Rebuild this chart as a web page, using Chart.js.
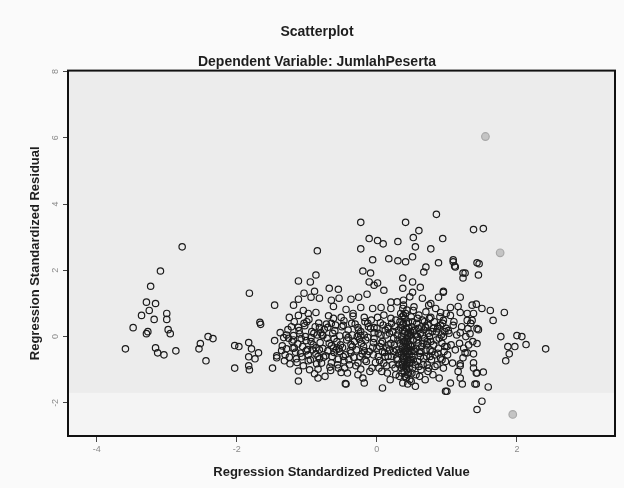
<!DOCTYPE html>
<html>
<head>
<meta charset="utf-8">
<script src="https://cdn.jsdelivr.net/npm/chart.js@4.4.1/dist/chart.umd.min.js"></script>
<style>
    html, body { margin: 0; padding: 0; background: #fafafa; }
    #wrap { width: 624px; height: 488px; }
</style>
</head>
<body>
<div id="wrap"><canvas id="residualChart"></canvas></div>
<script>
// Axis ticks
const xTicks = [-4, -2, 0, 2];
const yTicks = [-2, 0, 2, 4, 6, 8];

// Points: [standardized predicted value, standardized residual]
const leftCluster = [
    [-2.78, 2.71], [-3.09, 1.98], [-3.23, 1.52], [-3.29, 1.04], [-3.16, 1.00], [-3.25, 0.79],
    [-3.36, 0.64], [-3.18, 0.52], [-3.00, 0.70], [-3.00, 0.52], [-3.48, 0.27], [-3.29, 0.09],
    [-3.27, 0.15], [-2.98, 0.21], [-2.95, 0.09], [-3.59, -0.37], [-3.16, -0.34], [-3.13, -0.49],
    [-3.04, -0.55], [-2.87, -0.43], [-2.54, -0.37], [-2.52, -0.21], [-2.41, 0.00], [-2.34, -0.06],
    [-2.44, -0.73]
];

const midLeftCluster = [
    [-1.82, 1.31], [-1.46, 0.95], [-1.67, 0.43], [-1.66, 0.37], [-2.03, -0.27], [-1.97, -0.30],
    [-1.83, -0.18], [-1.79, -0.37], [-1.69, -0.49], [-1.83, -0.61], [-1.74, -0.67], [-2.03, -0.95],
    [-1.83, -0.88], [-1.82, -1.00], [-1.49, -0.95], [-1.46, -0.12], [-1.43, -0.64]
];

const midCluster = [
    [-0.23, 3.45], [-0.85, 2.59], [-0.11, 2.96], [0.01, 2.90], [-0.23, 2.65], [-0.06, 2.32],
    [0.17, 2.35], [-0.20, 1.98], [-0.87, 1.86], [-1.12, 1.68], [-0.95, 1.65], [-0.09, 1.92],
    [-0.11, 1.65], [0.01, 1.62], [-1.04, 1.31], [-0.89, 1.37], [-0.68, 1.46], [-0.55, 1.43],
    [-1.12, 1.13], [-0.94, 1.19], [-0.82, 1.16], [-0.65, 1.10], [-0.54, 1.16], [-0.37, 1.13],
    [-0.26, 1.19], [-0.14, 1.28], [-1.19, 0.95], [-1.05, 0.79], [-0.62, 0.91], [-0.44, 0.82],
    [-0.23, 0.88], [-0.06, 0.85], [0.06, 0.88], [-1.25, 0.58], [-1.12, 0.64], [-0.98, 0.70],
    [-0.87, 0.73], [-0.51, 0.58], [-0.34, 0.70], [-0.18, 0.58], [-1.22, 0.30], [-1.04, 0.40],
    [-0.82, 0.27], [-0.65, 0.40], [-0.48, 0.34], [-0.27, 0.27], [-0.13, 0.40], [-1.33, -0.03],
    [-1.19, 0.03], [-1.08, -0.06], [-0.94, -0.03], [-0.77, 0.03], [-0.61, -0.06], [-0.41, -0.03],
    [-0.23, 0.03], [-0.04, -0.06], [-1.43, -0.58], [-1.29, -0.37], [-1.18, -0.34], [-1.01, -0.43],
    [-0.87, -0.34], [-0.70, -0.43], [-0.54, -0.37], [-0.37, -0.49], [-0.18, -0.43], [-1.32, -0.73],
    [-1.15, -0.67], [-0.98, -0.73], [-0.82, -0.67], [-0.65, -0.79], [-0.47, -0.73], [-0.27, -0.79],
    [-1.12, -1.04], [-0.84, -0.98], [-0.55, -0.95], [-0.23, -0.98], [-1.12, -1.34], [-0.84, -1.25],
    [-0.44, -1.43], [-0.18, -1.40]
];

const midFill = [
    [-1.38, 0.12], [-1.35, -0.28], [-1.31, -0.55], [-1.27, 0.21], [-1.24, -0.82], [-1.21, -0.15],
    [-1.18, 0.45], [-1.16, -0.47], [-1.13, -0.22], [-1.10, 0.08], [-1.07, -0.61], [-1.05, -0.88],
    [-1.03, 0.33], [-1.01, -0.12], [-0.99, -0.39], [-0.97, 0.52], [-0.95, -0.70], [-0.93, 0.15],
    [-0.91, -0.25], [-0.89, -1.12], [-0.87, -0.52], [-0.85, 0.05], [-0.83, 0.41], [-0.81, -0.18],
    [-0.79, -0.80], [-0.77, -0.36], [-0.75, 0.22], [-0.73, -0.58], [-0.71, -0.05], [-0.69, 0.63],
    [-0.67, -0.92], [-0.65, -0.27], [-0.63, 0.10], [-0.61, -0.48], [-0.59, 0.35], [-0.57, -0.15],
    [-0.55, -0.68], [-0.53, 0.02], [-0.51, -1.08], [-0.49, -0.33], [-0.47, 0.48], [-0.45, -0.55],
    [-0.43, -0.10], [-0.41, 0.20], [-0.39, -0.85], [-0.37, -0.24], [-0.35, 0.05], [-0.33, -0.62],
    [-0.31, 0.38], [-0.29, -0.40], [-0.27, -1.15], [-0.25, -0.08], [-0.23, 0.15], [-0.21, -0.52],
    [-0.19, -0.30], [-0.17, 0.45], [-0.15, -0.75], [-0.13, -0.02], [-0.11, -0.45], [-0.09, 0.25],
    [-0.07, -0.95], [-0.05, -0.18], [-1.26, -0.05], [-1.12, 0.28], [-0.96, -1.00], [-0.88, 0.30],
    [-0.74, -1.20], [-0.62, 0.55], [-0.46, -0.95], [-0.34, 0.62], [-0.20, -1.25], [-0.08, 0.50],
    [-1.20, -0.35], [-0.84, -0.60], [-0.58, -0.40], [-0.40, -0.70], [-0.16, -0.10], [-1.02, 0.00],
    [-0.70, 0.28], [-0.28, 0.00]
];

const midExtra = [
    [-1.36, -0.42], [-1.29, 0.05], [-1.25, -0.62], [-1.19, -0.10], [-1.14, -0.78], [-1.11, 0.18],
    [-1.06, -0.30], [-1.00, 0.45], [-0.98, -0.55], [-0.94, -0.15], [-0.90, 0.10], [-0.86, -0.82],
    [-0.82, -0.40], [-0.80, 0.12], [-0.76, -0.62], [-0.72, 0.38], [-0.68, -0.20], [-0.66, -1.02],
    [-0.62, -0.35], [-0.60, 0.18], [-0.56, -0.85], [-0.52, -0.25], [-0.50, 0.30], [-0.48, -0.60],
    [-0.44, 0.05], [-0.42, -1.10], [-0.38, -0.42], [-0.36, 0.40], [-0.32, -0.15], [-0.30, -0.88],
    [-0.26, 0.20], [-0.24, -0.60], [-0.22, -0.20], [-0.18, 0.05], [-0.14, -0.55], [-0.12, 0.30],
    [-0.10, -1.05], [-0.06, -0.32], [-0.04, 0.12], [-0.02, -0.78], [-1.09, -0.50], [-0.92, -0.40],
    [-0.78, 0.05], [-0.64, -0.60], [-0.53, -0.45], [-0.35, -0.30], [-0.17, -0.70], [-0.05, -0.55]
];

const coreCluster = [
    [0.85, 3.69], [0.41, 3.45], [0.60, 3.20], [0.30, 2.87], [0.52, 2.99], [0.94, 2.96],
    [0.55, 2.71], [0.77, 2.65], [0.09, 2.80], [0.30, 2.29], [0.41, 2.26], [0.51, 2.41],
    [0.88, 2.23], [0.70, 2.10], [0.67, 1.95], [0.37, 1.77], [0.51, 1.65], [-0.04, 1.55],
    [0.10, 1.40], [0.37, 1.46], [0.51, 1.34], [0.62, 1.49], [0.95, 1.37], [0.20, 1.04],
    [0.38, 1.10], [0.65, 1.16], [0.88, 1.19], [0.37, 0.85], [0.52, 0.79], [0.74, 0.95],
    [0.91, 0.73], [0.01, 0.58], [0.20, 0.55], [0.38, 0.64], [0.58, 0.55], [0.77, 0.58],
    [0.95, 0.49], [-0.04, 0.27], [0.16, 0.24], [0.34, 0.27], [0.52, 0.18], [0.70, 0.27],
    [0.87, 0.24], [0.44, -1.43], [0.08, -1.55], [0.55, -1.50], [-0.45, -1.42], [0.98, -1.65]
];

const coreFill = [
    [0.00, -0.35], [0.02, 0.10], [0.04, -0.72], [0.05, 0.42], [0.07, -1.05], [0.08, -0.15],
    [0.10, 0.65], [0.11, -0.48], [0.13, 0.05], [0.14, -0.88], [0.16, 0.30], [0.17, -0.25],
    [0.19, -1.30], [0.20, 0.85], [0.21, -0.60], [0.23, 0.15], [0.24, -0.05], [0.26, -0.95],
    [0.27, 0.50], [0.28, -0.40], [0.29, 1.05], [0.30, -0.70], [0.31, 0.20], [0.32, -1.20],
    [0.33, -0.20], [0.34, 0.70], [0.35, -0.55], [0.35, 0.00], [0.36, -0.85], [0.36, 0.35],
    [0.37, -1.40], [0.37, -0.30], [0.38, 0.95], [0.38, -0.65], [0.39, 0.10], [0.39, -1.05],
    [0.40, -0.15], [0.40, 0.55], [0.41, -0.45], [0.41, -0.90], [0.42, 0.25], [0.42, -1.25],
    [0.43, -0.05], [0.43, 0.80], [0.44, -0.70], [0.44, -0.35], [0.45, 0.45], [0.45, -1.10],
    [0.46, 0.00], [0.46, -0.55], [0.47, 1.20], [0.47, -0.80], [0.48, 0.15], [0.48, -0.25],
    [0.49, -1.35], [0.49, 0.60], [0.50, -0.60], [0.50, 0.30], [0.51, -0.95], [0.52, -0.10],
    [0.53, 0.90], [0.54, -0.45], [0.55, 0.05], [0.56, -1.15], [0.57, 0.40], [0.58, -0.75],
    [0.59, -0.20], [0.60, 0.65], [0.61, -0.50], [0.62, 0.10], [0.63, -1.00], [0.64, -0.30],
    [0.65, 0.50], [0.66, -0.85], [0.67, 0.20], [0.68, -0.05], [0.69, -1.30], [0.70, 0.75],
    [0.71, -0.60], [0.72, -0.15], [0.73, 0.35], [0.74, -0.95], [0.75, 0.00], [0.76, -0.40],
    [0.77, 1.00], [0.78, -0.70], [0.79, 0.15], [0.80, -1.15], [0.81, -0.25], [0.82, 0.45],
    [0.83, -0.55], [0.84, 0.85], [0.85, -0.10], [0.86, -0.85], [0.87, 0.30], [0.88, -0.35],
    [0.89, -1.25], [0.90, 0.60], [0.91, -0.65], [0.92, 0.05], [0.93, -0.20], [0.94, 0.40],
    [0.95, -0.95], [0.96, -0.45], [0.97, 0.15], [0.98, -0.75], [0.99, 0.70], [1.00, -0.30],
    [0.36, -0.10], [0.38, -0.50], [0.40, -0.75], [0.42, -0.60], [0.44, -0.15], [0.46, -0.95],
    [0.38, 0.40], [0.40, 0.15], [0.42, -0.30], [0.44, 0.05], [0.37, -0.80], [0.39, -0.35],
    [0.41, 0.70], [0.43, -1.00], [0.45, -0.25], [0.47, -0.45], [0.36, -1.10], [0.38, -0.90],
    [0.40, -1.20], [0.42, -0.85], [0.44, -0.50], [0.46, 0.25], [0.48, -0.70], [0.50, -1.10],
    [0.34, -0.45], [0.32, -0.85], [0.30, -0.10], [0.28, -0.65], [0.26, 0.30], [0.24, -0.45],
    [0.22, -0.85], [0.20, -0.20], [0.18, 0.10], [0.16, -0.60], [0.14, -0.35], [0.12, 0.20],
    [0.10, -0.80], [0.08, -0.45], [0.06, 0.05], [0.04, -0.30], [0.02, -0.60], [0.00, 0.25],
    [0.52, -0.70], [0.54, 0.20], [0.56, -0.35], [0.58, 0.00], [0.60, -0.90], [0.62, -0.60],
    [0.64, 0.30], [0.66, -0.20], [0.68, 0.45], [0.70, -0.40], [0.72, -0.85], [0.74, 0.10],
    [0.76, -0.60]
];

const coreExtra = [
    [0.03, -0.95], [0.06, -0.20], [0.09, 0.35], [0.12, -0.60], [0.15, -1.10], [0.18, -0.40],
    [0.21, 0.40], [0.25, -0.25], [0.27, -1.15], [0.29, 0.05], [0.31, -0.50], [0.33, 0.45],
    [0.35, -0.95], [0.37, 0.20], [0.39, -0.60], [0.41, -0.20], [0.43, -0.80], [0.45, 0.10],
    [0.47, -1.30], [0.49, -0.30], [0.51, 0.45], [0.53, -0.40], [0.55, -0.85], [0.57, -0.10],
    [0.59, 0.25], [0.61, -1.20], [0.63, -0.45], [0.65, 0.05], [0.67, -0.65], [0.69, 0.30],
    [0.71, -0.25], [0.73, -1.05], [0.75, 0.55], [0.77, -0.15], [0.79, -0.45], [0.81, 0.25],
    [0.83, -0.90], [0.85, 0.15], [0.87, -0.50], [0.89, -0.05], [0.91, 0.35], [0.93, -0.70],
    [0.95, 0.00], [0.97, -0.30], [0.99, 0.25], [1.01, -0.55], [1.03, 0.10], [1.06, -0.25],
    [1.08, -0.80], [1.10, 0.45], [1.12, -0.40], [1.14, 0.05], [1.16, -1.05], [1.18, -0.20],
    [1.21, 0.30], [1.24, -0.35], [1.27, 0.00], [1.31, -0.25], [1.34, 0.40], [1.37, -0.15],
    [0.40, -0.40], [0.42, 0.40], [0.44, -1.15], [0.46, -0.70], [0.38, -0.15], [0.36, 0.60],
    [0.48, 0.05], [0.50, -0.45]
];

const rightCluster = [
    [1.38, 3.23], [1.52, 3.26], [1.09, 2.26], [1.12, 2.10], [1.23, 1.92], [1.43, 2.23],
    [1.45, 1.86], [1.19, 1.19], [1.05, 0.88], [1.16, 0.91], [1.36, 0.95], [1.05, 0.64],
    [1.19, 0.73], [1.38, 0.70], [1.29, 0.49], [1.43, 0.24], [1.09, 0.34], [1.02, 0.18],
    [1.19, 0.12], [1.33, 0.09], [1.43, -0.21], [1.29, -0.49], [1.23, -0.64], [1.19, -0.82],
    [1.38, -0.79], [1.43, -1.10], [1.40, -1.43], [1.19, -1.25], [1.00, -1.65], [1.05, -1.40],
    [1.09, 2.32], [1.11, 2.13], [1.26, 1.92], [1.23, 1.77], [1.46, 2.20], [0.95, 1.34],
    [1.29, 0.70], [1.42, 0.98], [1.50, 0.85], [1.62, 0.79], [1.82, 0.73], [1.66, 0.49],
    [1.36, 0.49], [1.45, 0.21], [1.30, 0.24], [1.77, 0.00], [2.00, 0.03], [2.07, 0.00],
    [2.13, -0.24], [2.41, -0.37], [1.87, -0.30], [1.97, -0.30], [1.89, -0.52], [1.84, -0.73],
    [1.26, -0.49], [1.38, -0.52], [1.19, -0.88], [1.38, -0.95], [1.42, -1.10], [1.52, -1.07],
    [1.22, -1.43], [1.42, -1.43], [1.59, -1.52], [1.50, -1.95], [1.43, -2.20]
];

// Faint marks in the scan
const fadedPoints = [[1.55, 6.04], [1.76, 2.53], [1.94, -2.35]];

const toXY = arr => arr.map(([x, y]) => ({ x, y }));

const markStyle = {
    pointRadius: 3.2,
    pointBorderWidth: 1.2,
    pointBorderColor: '#1c1c1c',
    pointBackgroundColor: 'rgba(0,0,0,0)',
    showLine: false
};

// Gray plot area and the black frame
const plotFrame = {
    id: 'plotFrame',
    beforeDatasetsDraw(chart) {
        const { ctx, chartArea: a, scales: { y } } = chart;
        ctx.save();
        ctx.fillStyle = '#ececec';
        ctx.fillRect(a.left, a.top, a.width, a.height);
        const bandTop = y.getPixelForValue(-1.7);
        ctx.fillStyle = '#f4f4f4';
        ctx.fillRect(a.left, bandTop, a.width, a.bottom - bandTop);
        ctx.restore();
    },
    afterDraw(chart) {
        const { ctx, chartArea: a } = chart;
        ctx.save();
        ctx.strokeStyle = '#111';
        ctx.lineWidth = 2;
        ctx.strokeRect(a.left, a.top, a.width, a.height);
        ctx.restore();
    }
};

new Chart(document.getElementById('residualChart').getContext('2d'), {
    type: 'scatter',
    data: {
        datasets: [
            { data: toXY(leftCluster), ...markStyle },
            { data: toXY(midLeftCluster), ...markStyle },
            { data: toXY(midCluster), ...markStyle },
            { data: toXY(midFill), ...markStyle },
            { data: toXY(midExtra), ...markStyle },
            { data: toXY(coreCluster), ...markStyle },
            { data: toXY(coreFill), ...markStyle },
            { data: toXY(coreExtra), ...markStyle },
            { data: toXY(rightCluster), ...markStyle },
            {
                data: toXY(fadedPoints), ...markStyle,
                pointRadius: 3.8, pointBorderColor: '#a8a8a8', pointBackgroundColor: '#c4c4c4'
            }
        ]
    },
    options: {
        responsive: true,
        maintainAspectRatio: false,
        animation: false,
        layout: { padding: { left: 19, right: 9, top: 0, bottom: 0 } },
        plugins: {
            legend: { display: false },
            tooltip: { enabled: false },
            title: {
                display: true,
                text: 'Scatterplot',
                color: '#1e1e1e',
                font: { family: 'Liberation Sans, Arial, sans-serif', size: 14, weight: 'bold' },
                padding: { top: 24, bottom: 4 }
            },
            subtitle: {
                display: true,
                text: 'Dependent Variable: JumlahPeserta',
                color: '#1e1e1e',
                font: { family: 'Liberation Sans, Arial, sans-serif', size: 14, weight: 'bold' },
                padding: { top: 9, bottom: 0 }
            }
        },
        scales: {
            x: {
                type: 'linear',
                min: -4.41,
                max: 3.4,
                afterBuildTicks: s => { s.ticks = xTicks.map(v => ({ value: v })); },
                afterFit: s => { s.height = 52; },
                border: { display: false },
                grid: { drawOnChartArea: false, drawTicks: true, tickLength: 6, color: '#444' },
                ticks: {
                    color: '#8a8a8a', padding: 2,
                    font: { family: 'Liberation Sans, Arial, sans-serif', size: 9 }
                },
                title: {
                    display: true,
                    text: 'Regression Standardized Predicted Value',
                    color: '#1e1e1e',
                    font: { family: 'Liberation Sans, Arial, sans-serif', size: 13, weight: 'bold' },
                    padding: { top: 0, bottom: 8 }
                }
            },
            y: {
                type: 'linear',
                min: -3.0,
                max: 8.03,
                afterBuildTicks: s => { s.ticks = yTicks.map(v => ({ value: v })); },
                afterFit: s => { s.width = 49; },
                border: { display: false },
                grid: { drawOnChartArea: false, drawTicks: true, tickLength: 5, color: '#444' },
                ticks: {
                    color: '#8a8a8a', minRotation: 90, maxRotation: 90, crossAlign: 'center',
                    font: { family: 'Liberation Sans, Arial, sans-serif', size: 9 }
                },
                title: {
                    display: true,
                    text: 'Regression Standardized Residual',
                    color: '#1e1e1e',
                    font: { family: 'Liberation Sans, Arial, sans-serif', size: 13, weight: 'bold' },
                    padding: { top: 9, bottom: 0 }
                }
            }
        }
    },
    plugins: [plotFrame]
});
</script>
</body>
</html>
